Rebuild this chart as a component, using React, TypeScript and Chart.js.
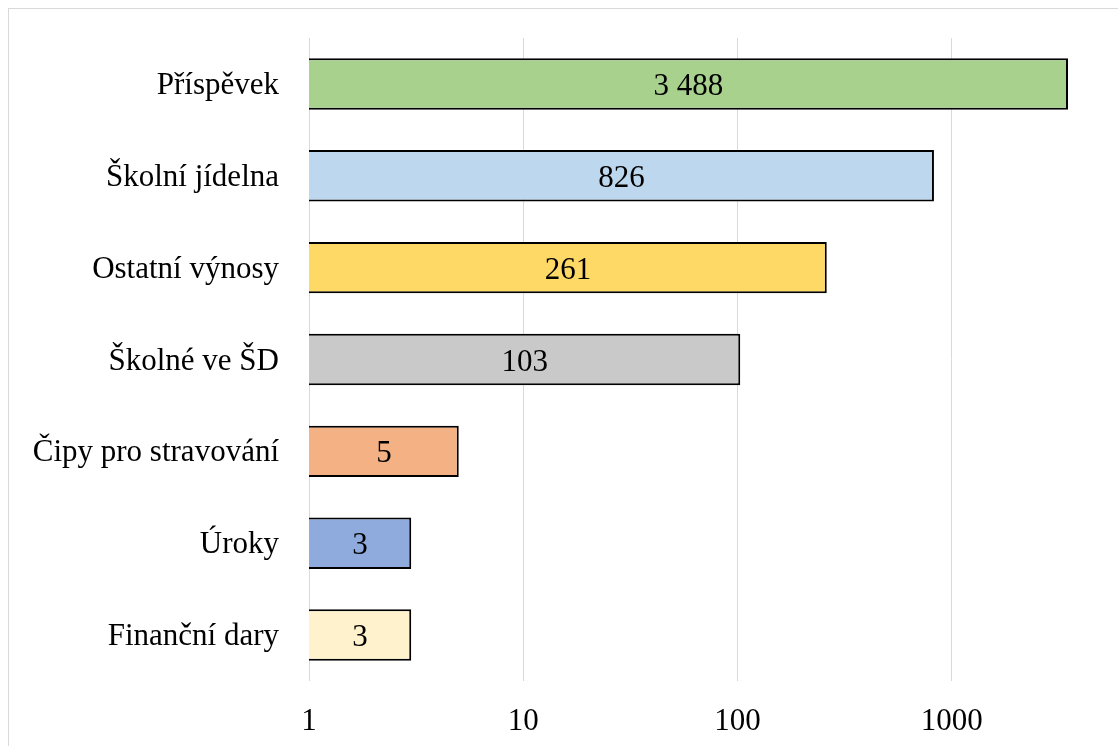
import React, { useEffect, useRef } from "react";
import { Chart, registerables } from "chart.js";

Chart.register(...registerables);

const categories = [
  "Příspěvek",
  "Školní jídelna",
  "Ostatní výnosy",
  "Školné ve ŠD",
  "Čipy pro stravování",
  "Úroky",
  "Finanční dary",
];
const values = [3488, 826, 261, 103, 5, 3, 3];
const valueLabels = ["3 488", "826", "261", "103", "5", "3", "3"];
const barColors = ["#A9D18E", "#BDD7EE", "#FFD966", "#C9C9C9", "#F4B183", "#8FAADC", "#FFF2CC"];
const xTickValues = [1, 10, 100, 1000, 10000];

const FONT = "'Liberation Serif', 'Times New Roman', serif";
const FONT_SIZE = 31;

const labelPlugin = {
  id: "barValueLabels",
  afterDatasetsDraw(chart: any) {
    const ctx = chart.ctx;
    const meta = chart.getDatasetMeta(0);
    ctx.save();
    ctx.font = `${FONT_SIZE}px ${FONT}`;
    ctx.fillStyle = "#000000";
    ctx.textAlign = "center";
    ctx.textBaseline = "middle";
    meta.data.forEach((bar: any, i: number) => {
      const cx = (bar.x + bar.base) / 2;
      ctx.fillText(valueLabels[i], cx, bar.y + 3);
    });
    ctx.restore();
  },
};

export default function App() {
  const canvasRef = useRef<HTMLCanvasElement | null>(null);

  useEffect(() => {
    if (!canvasRef.current) return;
    const chart = new Chart(canvasRef.current, {
      type: "bar",
      data: {
        labels: categories,
        datasets: [
          {
            data: values,
            backgroundColor: barColors,
            borderColor: "#000000",
            borderWidth: 2,
            barPercentage: 0.56,
            categoryPercentage: 1,
          },
        ],
      },
      options: {
        indexAxis: "y",
        responsive: false,
        animation: false,
        layout: { padding: { left: 0, right: 83, top: 29, bottom: 0 } },
        plugins: {
          legend: { display: false },
          tooltip: { enabled: false },
        },
        scales: {
          x: {
            type: "logarithmic",
            min: 1,
            max: 10000,
            afterBuildTicks: (scale: any) => {
              scale.ticks = xTickValues.map((v) => ({ value: v }));
            },
            afterFit: (scale: any) => {
              scale.height = 78;
              scale.paddingLeft = 0;
              scale.paddingRight = 0;
            },
            grid: { color: "#d9d9d9", lineWidth: 1, drawTicks: false },
            border: { display: false },
            ticks: {
              autoSkip: false,
              maxRotation: 0,
              padding: 22,
              color: "#000000",
              font: { family: FONT, size: FONT_SIZE },
              callback: (v: any) => String(v),
            },
          },
          y: {
            afterFit: (scale: any) => {
              scale.width = 300;
              scale.paddingTop = 0;
              scale.paddingBottom = 0;
            },
            grid: { display: false, drawTicks: false },
            border: { display: false },
            ticks: {
              padding: 30,
              labelOffset: 2,
              color: "#000000",
              font: { family: FONT, size: FONT_SIZE },
            },
          },
        },
      },
      plugins: [labelPlugin],
    } as any);
    return () => chart.destroy();
  }, []);

  return (
    <div style={{ position: "fixed", left: 0, top: 0, width: "100vw", height: "100vh", overflow: "hidden", background: "#ffffff" }}>
      <div
        style={{
          position: "absolute",
          left: 8,
          top: 8,
          width: 1240,
          height: 750,
          border: "1px solid #d9d9d9",
        }}
      >
        <canvas ref={canvasRef} width={1240} height={750} style={{ display: "block", width: 1240, height: 750 }} />
      </div>
    </div>
  );
}
